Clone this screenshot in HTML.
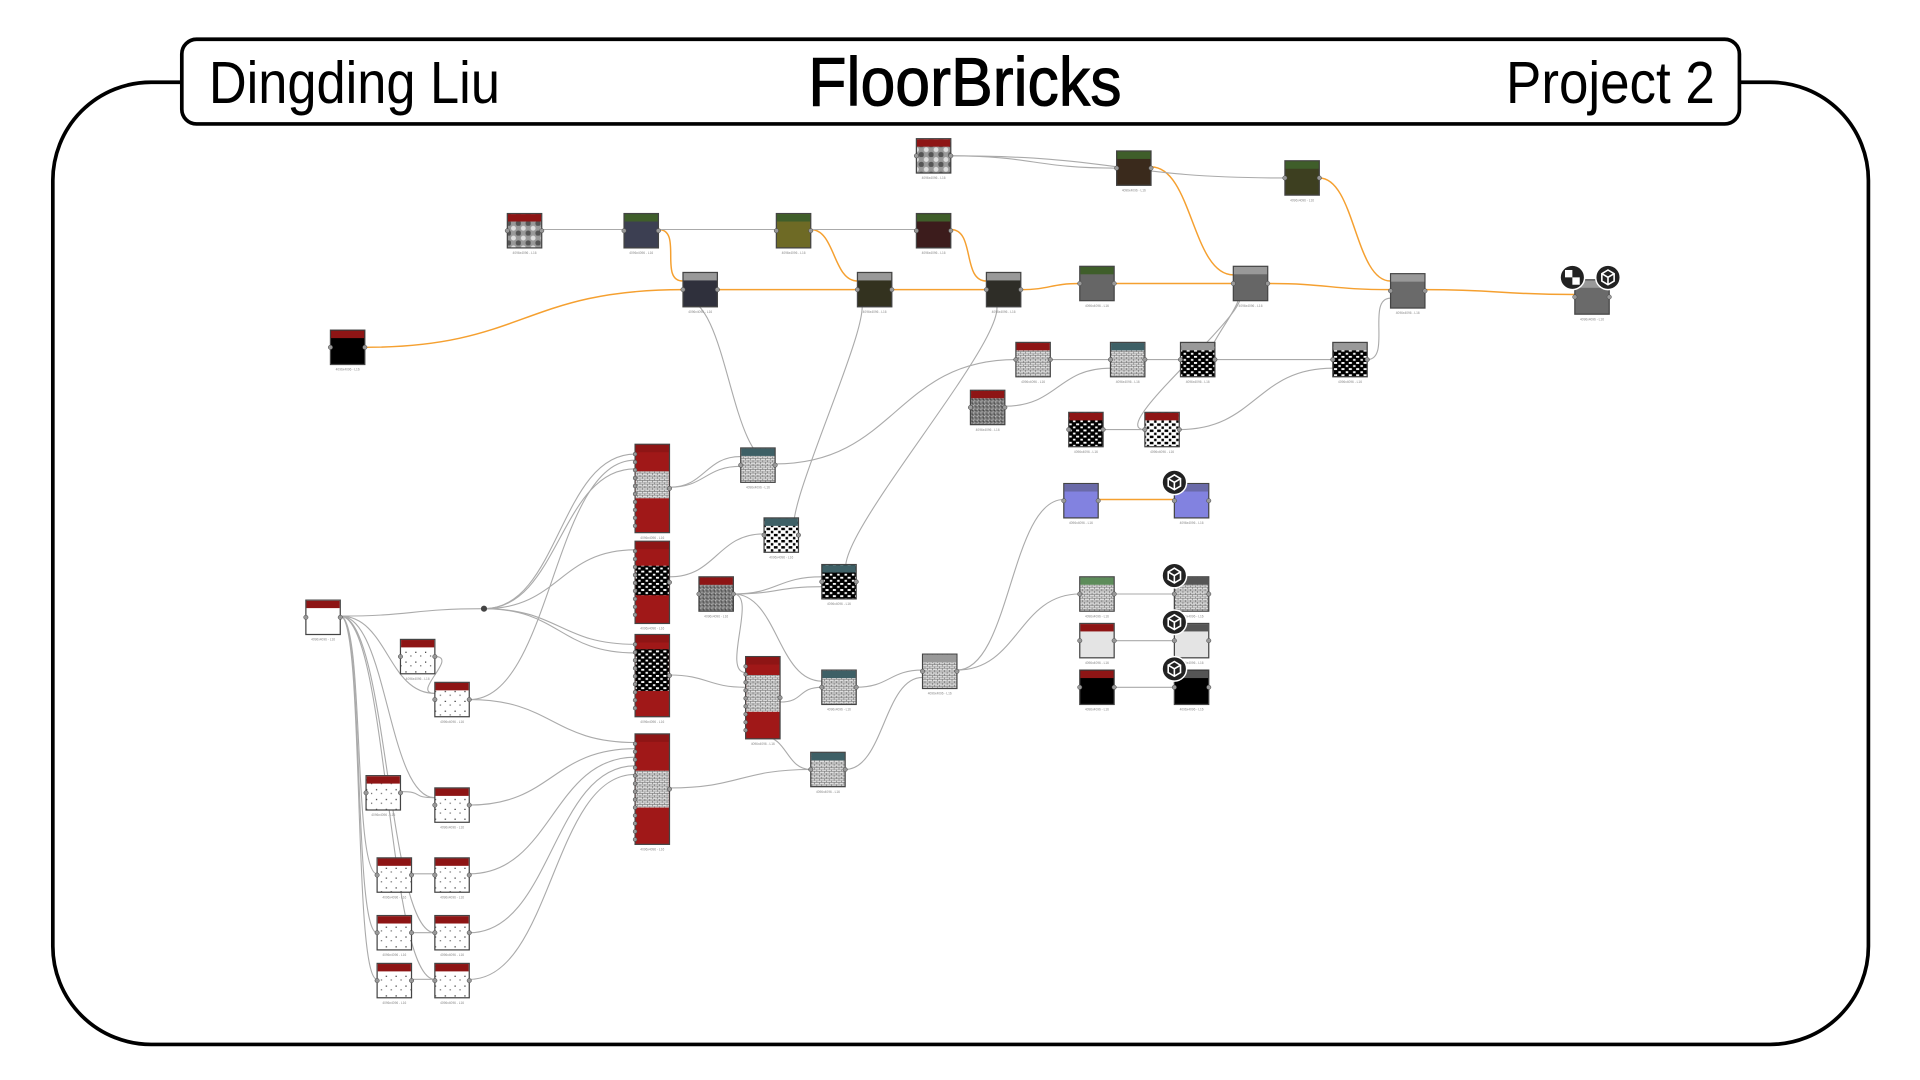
<!DOCTYPE html>
<html><head><meta charset="utf-8">
<style>
html,body{margin:0;padding:0;background:#fff;width:1920px;height:1080px;overflow:hidden}
svg{display:block}
.t{font-family:"Liberation Sans",sans-serif;fill:#000}
.lb{font-family:"Liberation Sans",sans-serif;font-size:2.6px;fill:#888}
</style></head>
<body>
<svg id="s" width="1920" height="1080" viewBox="0 0 1563 880" preserveAspectRatio="none" xmlns="http://www.w3.org/2000/svg">
<defs>
<pattern id="brick" width="4" height="3" patternUnits="userSpaceOnUse"><rect width="4" height="3" fill="#ddd"/><path d="M0 0H4M0 1.5H4M1 0V1.5M3 1.5V3" stroke="#555" stroke-width="0.4"/></pattern>
<pattern id="bw" width="6" height="5" patternUnits="userSpaceOnUse"><rect width="6" height="5" fill="#fff"/><rect x="0" y="0" width="3" height="2" fill="#000"/><rect x="3.5" y="2.5" width="2" height="2" fill="#000"/></pattern>
<pattern id="wb" width="6" height="5" patternUnits="userSpaceOnUse"><rect width="6" height="5" fill="#000"/><rect x="0" y="0" width="2.5" height="1.5" fill="#fff"/><rect x="3.5" y="2.5" width="2" height="1.5" fill="#fff"/></pattern>
<pattern id="noise" width="3" height="3" patternUnits="userSpaceOnUse"><rect width="3" height="3" fill="#777"/><rect width="1" height="1" fill="#bbb"/><rect x="2" y="1" width="1" height="1" fill="#444"/><rect x="1" y="2" width="1" height="1" fill="#aaa"/></pattern>
<pattern id="gtex" width="8" height="8" patternUnits="userSpaceOnUse"><rect width="8" height="8" fill="#999"/><circle cx="2" cy="2" r="2" fill="#ddd"/><circle cx="6" cy="6" r="2.2" fill="#555"/></pattern>
<pattern id="dots" width="8" height="8" patternUnits="userSpaceOnUse"><rect width="8" height="8" fill="#fff"/><rect x="2" y="3" width="1" height="1" fill="#333"/><rect x="6" y="6" width="1" height="1" fill="#666"/></pattern>
</defs>
<rect x="43" y="67" width="1478" height="784" rx="80" fill="none" stroke="#000" stroke-width="3"/>
<rect x="148" y="32" width="1268" height="69" rx="12" fill="#fff" stroke="#000" stroke-width="3"/>
<text class="t" x="170" y="84" font-size="48" textLength="237" lengthAdjust="spacingAndGlyphs">Dingding Liu</text>
<text class="t" x="658" y="86" font-size="56" textLength="255" lengthAdjust="spacingAndGlyphs" stroke="#000" stroke-width="0.8">FloorBricks</text>
<text class="t" x="1226" y="84" font-size="48" textLength="170" lengthAdjust="spacingAndGlyphs">Project 2</text>
<g id="edges" fill="none"></g>
<g id="nodes"></g>
</svg>
<script>
var NS="http://www.w3.org/2000/svg",eg=document.getElementById('edges'),ng=document.getElementById('nodes');
function el(t,a,p){var e=document.createElementNS(NS,t);for(var k in a)e.setAttribute(k,a[k]);(p||ng).appendChild(e);return e;}
var O="#f5a030",G="#aaa";
var E=[
[297,283,556,236,O],[536,187,556,229,O],[584,236,698,236,O],[660,187,698,229,O],[726,236,803,236,O],[774,187,803,229,O],[831,236,879,231,O],[907,231,1004,231,O],[937,136,1004,224,O],[1032,231,1132,236,O],[1074,145,1132,229,O],[1160,236,1282,240,O],[894,407,956,407,O],
[774,127,909,137,G],[774,127,1046,145,G],[441,187,508,187,G],[536,187,632,187,G],[660,187,746,187,G],
[556,243,631,378,G],[698,243,650,435,G],[803,243,697,470,G],[1004,238,989,293,G],[1004,238,932,350,G],
[855,293,904,293,G],[932,293,961,293,G],[989,293,1085,293,G],[818,331,904,300,G],[898,350,932,350,G],[960,350,1085,300,G],[1113,293,1132,243,G],
[631,378,827,293,G],[545,397,603,372,G],[545,397,603,380,G],[545,470,622,435,G],[597,484,669,470,G],[597,484,669,478,G],
[277,502,394,496,G],[394,496,517,370,G],[394,496,517,448,G],[394,496,517,525,G],[394,496,517,532,G],[394,496,517,382,G],
[277,502,354,565,G],[277,502,354,650,G],[277,502,307,712,G],[277,502,307,760,G],[277,502,307,798,G],[277,502,354,760,G],[277,502,354,798,G],
[354,535,354,565,G],[382,570,517,605,G],[382,570,517,375,G],[326,645,354,650,G],[382,656,517,610,G],[335,712,354,712,G],[382,712,517,617,G],[335,760,354,760,G],[382,760,517,624,G],[335,798,354,798,G],[382,798,517,631,G],
[545,550,607,560,G],[597,484,607,548,G],[635,572,669,560,G],[545,642,660,627,G],[597,484,669,555,G],[697,560,751,546,G],[688,627,751,552,G],[779,546,866,407,G],[779,546,879,484,G],[621,600,660,627,G],
[907,484,956,484,G],[907,522,956,522,G],[907,560,956,560,G]
];
E.forEach(function(e){var dx=Math.max(20,Math.abs(e[2]-e[0])*0.5);el('path',{d:'M'+e[0]+' '+e[1]+'C'+(e[0]+dx)+' '+e[1]+' '+(e[2]-dx)+' '+e[3]+' '+e[2]+' '+e[3],stroke:e[4],'stroke-width':e[4]==O?1.2:0.9},eg);});
var R="#8e1515",GR="#3f5e2a",GY="#999",TL="#3e6066",PU="#6a6aa8";
var N=[
[746,113,28,28,R,"url(#gtex)"],[909,123,28,28,GR,"#3a2a1c"],[1046,131,28,28,GR,"#3d3f20"],
[413,174,28,28,R,"url(#gtex)"],[508,174,28,28,GR,"#3c3f52"],[632,174,28,28,GR,"#6e6a25"],[746,174,28,28,GR,"#3c1c1c"],
[556,222,28,28,GY,"#2f303c"],[698,222,28,28,GY,"#33321f"],[803,222,28,28,GY,"#2e2d27"],[879,217,28,28,GR,"#666"],[1004,217,28,28,GY,"#666"],[1132,223,28,28,GY,"#6a6a6a"],[1282,228,28,28,GY,"#6a6a6a"],
[269,269,28,28,R,"#000"],
[827,279,28,28,R,"url(#brick)"],[904,279,28,28,TL,"url(#brick)"],[961,279,28,28,GY,"url(#wb)"],[1085,279,28,28,GY,"url(#wb)"],
[790,318,28,28,R,"url(#noise)"],[870,336,28,28,R,"url(#wb)"],[932,336,28,28,R,"url(#bw)"],
[517,362,28,72,R,"T1"],[517,441,28,67,R,"T2"],[517,517,28,67,R,"T3"],[517,598,28,90,R,"T4"],[607,535,28,67,R,"T5"],
[603,365,28,28,TL,"url(#brick)"],[622,422,28,28,TL,"url(#bw)"],[669,460,28,28,TL,"url(#wb)"],[569,470,28,28,R,"url(#noise)"],
[669,546,28,28,TL,"url(#brick)"],[751,533,28,28,GY,"url(#brick)"],[660,613,28,28,TL,"url(#brick)"],
[866,394,28,28,PU,"#8282e0"],[956,394,28,28,PU,"#8282e0"],
[879,470,28,28,"#5d8c5a","url(#brick)"],[956,470,28,28,"#555","url(#brick)"],[879,508,28,28,R,"#e4e4e4"],[956,508,28,28,"#555","#e4e4e4"],[879,546,28,28,R,"#000"],[956,546,28,28,"#555","#000"],
[249,489,28,28,R,"#fff"],[326,521,28,28,R,"url(#dots)"],[354,556,28,28,R,"url(#dots)"],[298,632,28,28,R,"url(#dots)"],[354,642,28,28,R,"url(#dots)"],[307,699,28,28,R,"url(#dots)"],[354,699,28,28,R,"url(#dots)"],[307,746,28,28,R,"url(#dots)"],[354,746,28,28,R,"url(#dots)"],[307,785,28,28,R,"url(#dots)"],[354,785,28,28,R,"url(#dots)"]
];
var mid={T1:["url(#brick)",22,22],T2:["url(#wb)",20,24],T3:["url(#wb)",12,34],T4:["url(#brick)",30,30],T5:["url(#brick)",15,30]};
N.forEach(function(n){var x=n[0],y=n[1],w=n[2],h=n[3],b=n[5];
 var body=mid[b]?"#a01818":b;
 el('rect',{x:x,y:y,width:w,height:h,fill:body,stroke:"#444","stroke-width":1});
 if(mid[b]){var m=mid[b];el('rect',{x:x+0.5,y:y+m[1],width:w-1,height:m[2],fill:m[0]});
  for(var py=y+8;py<y+h-2;py+=6.5)el('circle',{cx:x,cy:py,r:1.6,fill:"#999",stroke:"#444","stroke-width":0.4});}
 else el('circle',{cx:x,cy:y+h/2,r:1.8,fill:"#999",stroke:"#444","stroke-width":0.4});
 el('rect',{x:x+0.5,y:y+0.5,width:w-1,height:6,fill:n[4]});
 el('circle',{cx:x+w,cy:y+h/2,r:1.8,fill:"#999",stroke:"#444","stroke-width":0.4});
 var tl=el('text',{x:x+w/2,y:y+h+5,'text-anchor':'middle','class':'lb'});tl.textContent="4096x4096 - L16";
});
function icon(cx,cy){el('circle',{cx:cx,cy:cy,r:10,fill:"#222",stroke:"#fff","stroke-width":1.2});
 el('path',{d:'M'+(cx-5)+' '+(cy-3)+'L'+cx+' '+(cy-6)+'L'+(cx+5)+' '+(cy-3)+'V'+(cy+3)+'L'+cx+' '+(cy+6)+'L'+(cx-5)+' '+(cy+3)+'Z M'+cx+' '+cy+'V'+(cy+6)+'M'+(cx-5)+' '+(cy-3)+'L'+cx+' '+cy+'L'+(cx+5)+' '+(cy-3),fill:'none',stroke:'#fff','stroke-width':1.3});}
[[1309,226],[956,393],[956,469],[956,507],[956,545]].forEach(function(p){icon(p[0],p[1]);});
el('circle',{cx:1280,cy:226,r:10,fill:"#222",stroke:"#fff","stroke-width":1.2});
el('rect',{x:1274,y:220,width:6,height:6,fill:"#fff"});el('rect',{x:1280,y:226,width:6,height:6,fill:"#fff"});
el('circle',{cx:394,cy:496,r:2.5,fill:"#444"});
</script>
</body></html>
